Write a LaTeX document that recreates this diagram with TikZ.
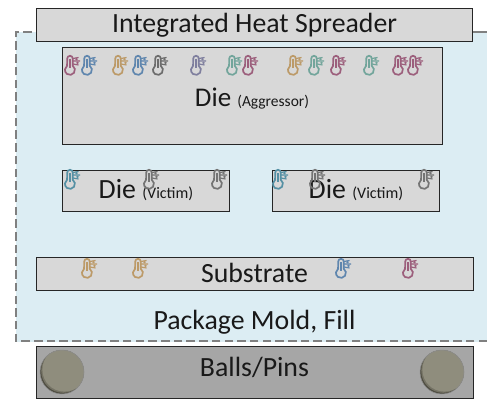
\documentclass[tikz,border=0pt]{standalone}
\usepackage{fontspec}
\setmainfont{Carlito}
\definecolor{ballc}{HTML}{8F8D7D}
\definecolor{ballm}{HTML}{747264}
\definecolor{balld}{HTML}{4E4C40}
\definecolor{moldc}{HTML}{DCEDF3}
\definecolor{boxc}{HTML}{D8D8D8}
\definecolor{ballbox}{HTML}{A6A6A6}
\definecolor{rosec}{HTML}{9C5F7C}
\definecolor{bluec}{HTML}{5F86AE}
\definecolor{tanc}{HTML}{BC9A68}
\definecolor{darkc}{HTML}{6C6C6C}
\definecolor{purc}{HTML}{7F7F9E}
\definecolor{tealc}{HTML}{72A59B}
\definecolor{vicc}{HTML}{5590A4}
\definecolor{vicg}{HTML}{747474}
\tikzset{
  layerbox/.style={draw=black!85,line width=0.9pt,fill=boxc},
  label/.style={inner sep=0pt,anchor=base,font=\fontsize{27.8}{30}\selectfont,text=black!90},
  thermo/.pic={
    \draw[line width=1.7pt,pic actions,fill=none]
      (-2.8,2.6) arc[start angle=180,end angle=360,radius=2.8] -- (2.8,9.8)
      arc[start angle=-55,end angle=235,radius=5] -- cycle;
    \draw[line width=1.7pt,pic actions] (0,3) -- (0,12);
    \draw[line width=1.2pt,pic actions] (3,2.5) -- (8.5,1.5) (3,5) -- (10,5) (3,8) -- (8.5,9);
    \fill[pic actions] (6.5,3.2) circle (1) (7.5,6.8) circle (1);
  },
  ballpic/.pic={
    \begin{scope}
      \clip (0,0) circle (22);
      \fill[balld] (0,0) circle (22);
      \fill[ballm] (1.2,-1.2) circle (22);
      \fill[ballc] (2.4,-2.4) circle (22);
    \end{scope}
    \draw[black!45,line width=0.5pt] (0,0) circle (22);
  }
}
\begin{document}
\begin{tikzpicture}[x=1pt,y=-1pt]
\useasboundingbox (0,0) rectangle (487,401);
\fill[white] (0,0) rectangle (487,401);
\fill[moldc] (16,32) rectangle (487,342);
\draw[draw=black!50,line width=1.2pt,dash pattern=on 8.5pt off 4.2pt] (487,341) -- (16,341) -- (16,32) -- (36,32);
\draw[draw=black!50,line width=1.2pt] (472,32) -- (487,32);
\draw[layerbox] (36,8) rectangle (472,41);
\node[label] (ihs) at (254.5,33) {Integrated Heat Spreader};
\draw[layerbox] (62,47) rectangle (442,144);
\node[label,font=\fontsize{27}{30}\selectfont] (die) at (252,107) {Die {\fontsize{15.5}{17}\selectfont (Aggressor)}};
\foreach \x/\c in {70/rosec,87/bluec,118/tanc,138/bluec,158/darkc,196/purc,232/tealc,248/rosec,293/tanc,314/tealc,336/rosec,369/tealc,398/rosec,413/rosec}
  \pic[draw=\c,fill=\c] at (\x,56) {thermo};
\draw[layerbox] (62,170) rectangle (229,211);
\draw[layerbox] (272,170) rectangle (439,211);
\node[label] (v1) at (146,198) {Die {\fontsize{16}{18}\selectfont (Victim)}};
\node[label] (v2) at (356,198) {Die {\fontsize{16}{18}\selectfont (Victim)}};
\foreach \x/\c in {70/vicc,149/vicg,217/vicg,278/vicc,315/vicg,424/vicg}
  \pic[draw=\c,fill=\c] at (\x,170) {thermo};
\draw[layerbox] (36,257) rectangle (473,290);
\node[label] (sub) at (254.5,282) {Substrate};
\foreach \x/\c in {87/tanc,138/tanc,341/bluec,408/rosec}
  \pic[draw=\c,fill=\c] at (\x,259) {thermo};
\node[label] (mold) at (254.5,329) {Package Mold, Fill};
\draw[layerbox,fill=ballbox] (36,346) rectangle (473,398);
\node[label] (balls) at (254.5,376) {Balls/Pins};
\pic at (62,372) {ballpic};
\pic at (442,372) {ballpic};
\end{tikzpicture}
\end{document}
